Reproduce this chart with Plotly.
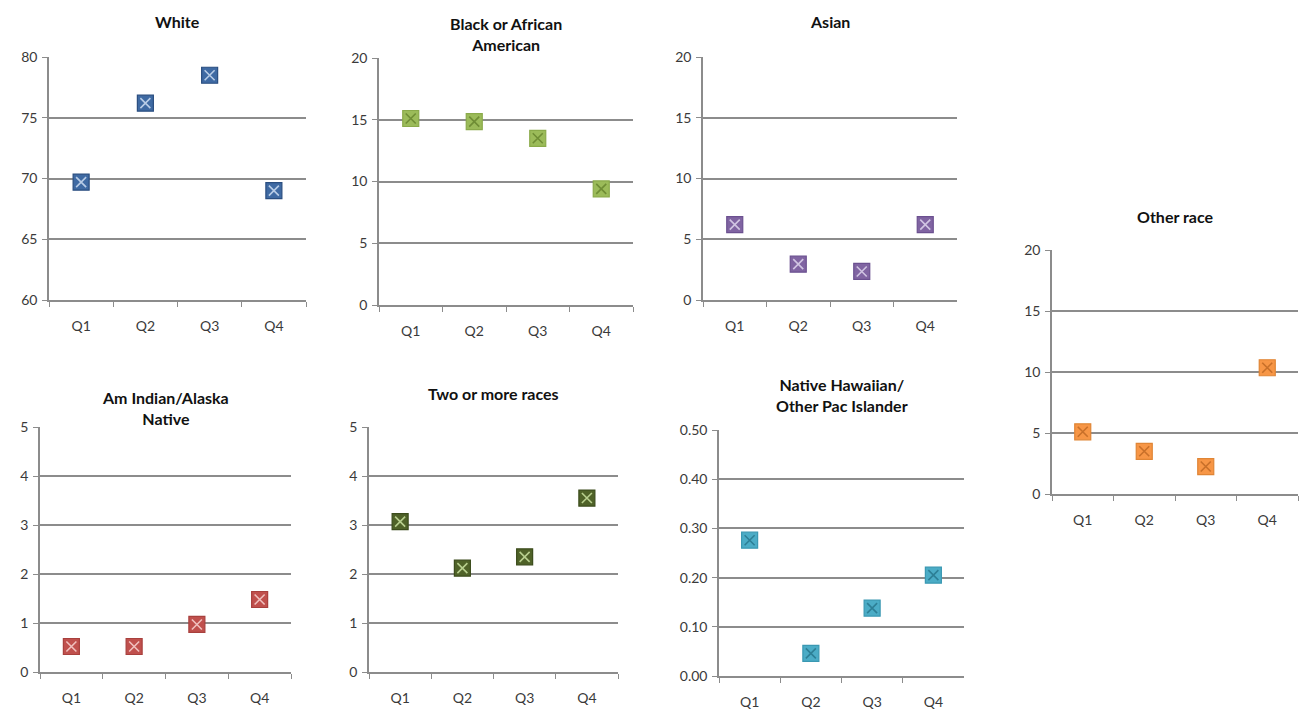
import plotly.graph_objects as go

quarters = ["Q1", "Q2", "Q3", "Q4"]

white = [69.7, 76.2, 78.5, 69.0]
black = [15.1, 14.85, 13.5, 9.4]
asian = [6.2, 2.95, 2.35, 6.2]
other = [5.1, 3.5, 2.25, 10.35]
am_indian = [0.52, 0.52, 0.97, 1.48]
two_more = [3.07, 2.12, 2.35, 3.55]
nh_pi = [0.276, 0.046, 0.138, 0.205]

titles = ["White", "Black or African<br>American", "Asian", "Other race",
          "Am Indian/Alaska<br>Native", "Two or more races",
          "Native Hawaiian/<br>Other Pac Islander"]
series = [white, black, asian, other, am_indian, two_more, nh_pi]
y_ranges = [(60, 80, 5), (0, 20, 5), (0, 20, 5), (0, 20, 5), (0, 5, 1), (0, 5, 1), (0, 0.5, 0.1)]
fills = ["#3f6aa3", "#9bbb59", "#8064a2", "#f79646", "#c0504d", "#4f6228", "#4bacc6"]
edges = ["#2a4e80", "#8aaa4a", "#6b5090", "#e08535", "#a8403d", "#3c4c1c", "#3a98b2"]
xcols = ["#b8cce6", "#6f8d35", "#d0c4e2", "#c8702a", "#f0c0be", "#b8cf8e", "#2d7f96"]

# plot-area boxes in pixels: left, right, top, bottom
W, H = 1309, 715
boxes = [(49, 306, 57, 300), (379, 633, 58, 305), (703, 957, 57, 300),
         (1052, 1298, 250, 494), (40, 291, 427, 672), (369, 618, 427, 672),
         (719, 964, 430, 676)]
title_y = [21, 34, 21, 216, 408, 393, 395]

fig = go.Figure()
grid = "#8c8c8c"
for i, (vals, (l, r, t, b)) in enumerate(zip(series, boxes)):
    n = "" if i == 0 else str(i + 1)
    xa, ya = "x" + n, "y" + n
    fig.add_trace(go.Scatter(x=quarters, y=vals, mode="markers", xaxis=xa, yaxis=ya,
                             marker=dict(symbol="square", size=16, color=fills[i],
                                         line=dict(color=edges[i], width=1.2)),
                             showlegend=False, hoverinfo="x+y"))
    fig.add_trace(go.Scatter(x=quarters, y=vals, mode="markers", xaxis=xa, yaxis=ya,
                             marker=dict(symbol="x-thin-open", size=10, color=xcols[i],
                                         line=dict(color=xcols[i], width=1.6)),
                             showlegend=False, hoverinfo="skip"))
    lo, hi, dt = y_ranges[i]
    fig.layout["xaxis" + n] = dict(domain=[l / W, r / W], anchor=ya, type="category",
                                   range=[-0.5, 3.5], tickson="boundaries", ticks="outside",
                                   ticklen=5, tickcolor=grid, showline=True, linecolor=grid,
                                   linewidth=1.5, showgrid=False, zeroline=False,
                                   automargin=False, ticklabelstandoff=12,
                                   tickfont=dict(size=14, color="#3a3a3a"), fixedrange=True)
    fig.layout["yaxis" + n] = dict(domain=[1 - b / H, 1 - t / H], anchor=xa,
                                   range=[lo, hi], dtick=dt, tick0=lo, ticks="outside",
                                   ticklen=5, tickcolor=grid, showline=True, linecolor=grid,
                                   linewidth=1.5, showgrid=True, gridcolor=grid, gridwidth=1.5,
                                   zeroline=False, tickformat=".2f" if i == 6 else "",
                                   automargin=False, ticklabelstandoff=2,
                                   tickfont=dict(size=14, color="#3a3a3a"), fixedrange=True)
    fig.add_annotation(text="<b>" + titles[i] + "</b>", x=(l + r) / 2 / W, y=1 - title_y[i] / H,
                       xref="paper", yref="paper", showarrow=False,
                       xanchor="center", yanchor="middle",
                       font=dict(size=16, color="#111"))

fig.update_layout(width=W, height=H, margin=dict(l=0, r=0, t=0, b=0, autoexpand=False),
                  paper_bgcolor="white", plot_bgcolor="white",
                  font=dict(family="Lato, 'Open Sans', sans-serif"))
fig.write_html("out.html", config={"displayModeBar": False},
               post_script="document.body.style.margin='0px';document.body.style.overflow='hidden';")
